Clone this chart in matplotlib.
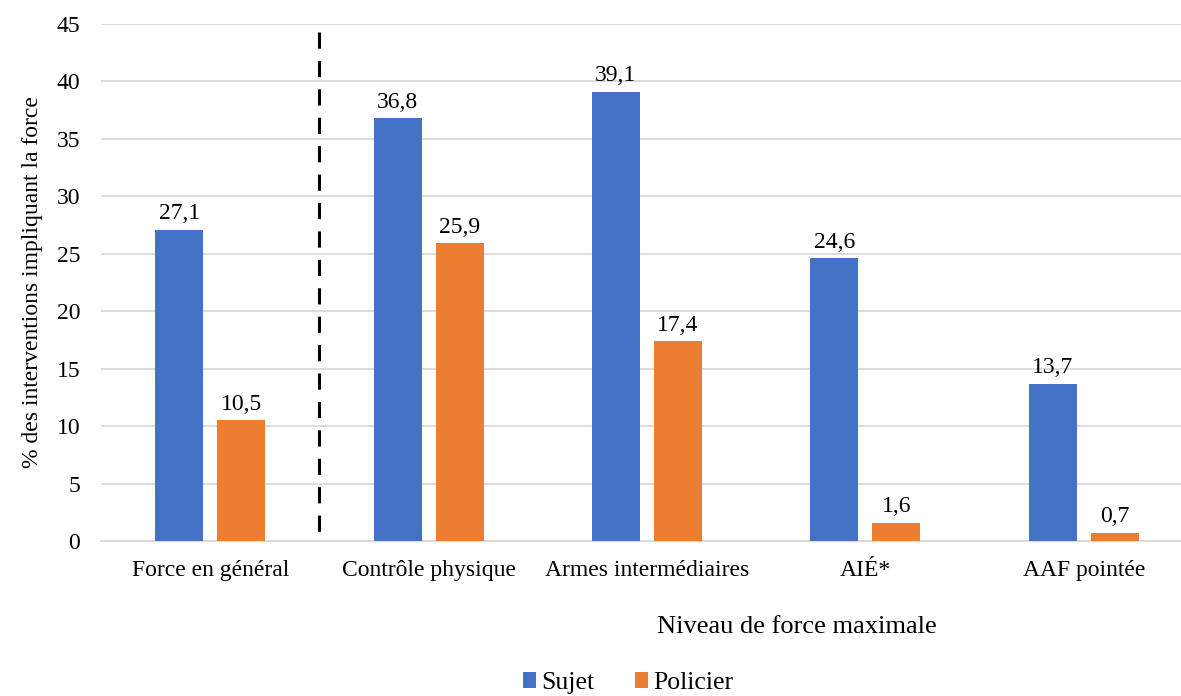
import numpy as np
import matplotlib.pyplot as plt

categories = ["Force en général", "Contrôle physique", "Armes intermédiaires", "AIÉ*", "AAF pointée"]
sujet = [27.1, 36.8, 39.1, 24.6, 13.7]
policier = [10.5, 25.9, 17.4, 1.6, 0.7]

BLUE = "#4472C4"
ORANGE = "#ED7D31"

plt.rcParams['font.family'] = ['Liberation Serif', 'DejaVu Serif']
plt.rcParams['font.size'] = 17

fig = plt.figure(figsize=(11.81, 6.96), dpi=100)
ax = fig.add_axes([101 / 1181, 1 - 541 / 696, 1 - 101 / 1181, (541 - 24) / 696])

x = np.arange(len(categories))
w = 0.22
off = 0.142
b1 = ax.bar(x - off, sujet, w, color=BLUE, label="Sujet", zorder=3)
b2 = ax.bar(x + off, policier, w, color=ORANGE, label="Policier", zorder=3)

def fmt(v):
    return f"{v:.1f}".replace(".", ",")

for bars, vals in ((b1, sujet), (b2, policier)):
    for rect, v in zip(bars, vals):
        ax.annotate(fmt(v), (rect.get_x() + rect.get_width() / 2, v),
                    xytext=(0, 4), textcoords="offset points",
                    ha="center", va="bottom", fontsize=17)

# séparation entre la force en général et les niveaux
ax.plot([0.5, 0.5], [44.3, 0], color="black", lw=2.2, dashes=(5.3, 4), zorder=4)

ax.set_ylim(0, 45)
ax.set_yticks(np.arange(0, 46, 5))
ax.set_xlim(-0.5, 4.5 - 12 / 218.5)
ax.set_xticks(x)
ax.set_xticklabels(categories)
ax.yaxis.grid(True, color="#D9D9D9", lw=1.3, zorder=0)
ax.tick_params(axis="both", length=0)
ax.tick_params(axis="y", pad=15)
ax.tick_params(axis="x", pad=14)
for s in ("top", "right", "left"):
    ax.spines[s].set_visible(False)
ax.spines["bottom"].set_color("#D9D9D9")
ax.spines["bottom"].set_linewidth(1.3)

ax.set_ylabel("% des interventions impliquant la force", fontsize=17, labelpad=10)
fig.text(797 / 1181, 1 - 627 / 696, "Niveau de force maximale", ha="center", va="center", fontsize=19)

fig.legend(handles=[b1, b2], loc="center", bbox_to_anchor=(628 / 1181, 1 - 683 / 696),
           ncol=2, frameon=False, fontsize=18.5, handlelength=0.5, handleheight=0.55,
           handletextpad=0.2, columnspacing=1.6)

fig.savefig("out.png", dpi=100)
